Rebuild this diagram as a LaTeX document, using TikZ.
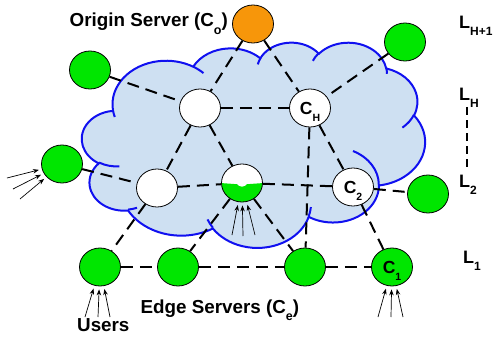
\documentclass[tikz,border=0pt]{standalone}
\usepackage{fontspec}
\setmainfont{Liberation Sans}
\usetikzlibrary{shapes.geometric, arrows.meta}

\definecolor{srvgreen}{RGB}{0,230,0}
\definecolor{srvorange}{RGB}{247,150,10}
\definecolor{cloudfill}{RGB}{206,224,242}
\definecolor{cloudedge}{RGB}{16,16,240}

% lowered subscript
\newcommand{\lsub}[2][12.5]{\raisebox{-0.4em}{\fontsize{#1}{#1}\selectfont #2}}
% cloud lobes: visual angles -> arc angles
\newcommand{\arcangles}{%
  \pgfmathsetmacro\ta{atan2(\rx*sin(\st),\ry*cos(\st))}%
  \pgfmathsetmacro\tb{atan2(\rx*sin(\st+\sw),\ry*cos(\st+\sw))}%
  \pgfmathsetmacro\td{\tb-\ta-360*round((\tb-\ta-\sw)/360)}%
}

\begin{document}
\begin{tikzpicture}[x=1pt, y=-1pt,
    srv/.style={ellipse, draw=black, line width=0.8pt, minimum width=41pt, minimum height=38pt,
      inner sep=0pt, font=\bfseries\fontsize{17.5}{17.5}\selectfont},
    link/.style={line width=2pt, dash pattern=on 12pt off 7pt},
    users/.style={-{Stealth[length=6pt, width=4.5pt]}, line width=0.7pt, shorten >=3pt},
    lbl/.style={inner sep=0pt, font=\bfseries\fontsize{18.8}{19}\selectfont},
    lvl/.style={inner sep=0pt, font=\bfseries\fontsize{18}{18}\selectfont},
  ]
    \useasboundingbox (0,0) rectangle (493,337);

    % Cloud
    \begin{scope}[shift={(82,42)}, x=0.794pt, y=-0.475pt]
        \draw[cloudedge, line width=2pt, fill=cloudfill] (39.00,143.70)
          \foreach \rx/\ry/\st/\sw in {67.53/91.90/-190.4875/123.7805, 53.33/72.67/-144.1024/89.9452,
            43.65/59.45/-145.8079/99.7230, 48.57/65.95/-130.9861/117.2417,
            53.33/72.73/-78.7089/109.0269, 67.75/92.20/-46.2673/130.2690,
            57.85/78.67/0.6250/114.0333, 67.52/92.15/22.4516/115.1726,
            77.20/105.43/66.2426/75.7110, 43.60/59.18/-274.9421/146.7356,
            43.45/59.45/-246.8285/152.5189}
          {\pgfextra{\arcangles} arc[start angle=\ta, delta angle=\td, x radius=\rx, y radius=\ry]}
          -- cycle;
        \foreach \px/\py/\rx/\ry/\st/\sw in {46.93/261.77/43.45/59.45/86.7420/26.4295,
            69.28/348.99/43.60/59.18/73.6105/11.4475, 164.78/390.90/67.52/92.15/137.6242/14.0811,
            288.27/347.51/67.52/92.15/6.4533/15.9984, 341.29/229.54/57.85/78.67/-70.2924/70.9174,
            417.98/153.54/53.33/72.73/30.3180/27.7515, 383.24/54.26/48.57/65.95/-13.7443/14.8589,
            290.78/39.52/48.57/65.95/-149.1815/18.1954, 221.41/47.20/43.65/59.45/-163.4943/17.6864,
            140.00/51.92/67.53/91.90/-66.7070/12.3194, 41.27/157.89/67.53/91.90/157.6544/11.8582}
          \draw[cloudedge, line width=2pt] (\px,\py) \pgfextra{\arcangles}
            arc[start angle=\ta, delta angle=\td, x radius=\rx, y radius=\ry];
    \end{scope}

    % Servers
    \node[srv, fill=srvorange] (origin) at (253,24) {};
    \node[srv, fill=srvgreen] (gtl) at (90,70) {};
    \node[srv, fill=srvgreen] (gtr) at (405,42) {};
    \node[srv, fill=white] (na) at (200,108) {};
    \node[srv, fill=white] (ch) at (310,108) {C\smash{\lsub[10.5]{H}}};
    \node[srv, fill=srvgreen] (gl) at (62,164) {};
    \node[srv, fill=white] (nb) at (157,188) {};
    \node[srv, draw=none, fill=white] (mid) at (242,183) {};
    \node[srv, fill=white] (c2) at (353,187) {C\smash{\lsub[10.5]{2}}};
    \node[srv, fill=srvgreen] (gr) at (428,194) {};
    \node[srv, fill=srvgreen] (e1) at (100,267) {};
    \node[srv, fill=srvgreen] (e2) at (178,267) {};
    \node[srv, fill=srvgreen] (e3) at (305,267) {};
    \node[srv, fill=srvgreen] (c1) at (392,267) {C\smash{\lsub[10.5]{1}}};

    % Half filled server
    \begin{scope}[shift={(mid.center)}]
        \begin{scope}
            \clip (0,0) ellipse [x radius=20.5, y radius=19];
            \fill[srvgreen] (-22,0) -- (-5,1.2) .. controls (-3,4.5) and (3,4.5) .. (5,1.2)
              -- (22,0) -- (22,22) -- (-22,22) -- cycle;
        \end{scope}
        \draw[line width=0.8pt] (0,0) ellipse [x radius=20.5, y radius=19];
    \end{scope}

    % Links
    \draw[link] (origin) -- (na);
    \draw[link] (origin) -- (ch);
    \draw[link] (gtl) -- (na);
    \draw[link] (gtr) -- (ch);
    \draw[link] (na) -- (ch);
    \draw[link] (na) -- (nb);
    \draw[link] (na) -- (mid);
    \draw[link] (ch) -- (c2);
    \draw[link] (ch) -- (e3);
    \draw[link] (gl) -- (nb);
    \draw[link] (nb) -- (mid);
    \draw[link] (mid) -- (c2);
    \draw[link] (c2) -- (gr);
    \draw[link] (nb) -- (e1);
    \draw[link] (mid) -- (e2);
    \draw[link] (mid) -- (e3);
    \draw[link] (c2) -- (c1);
    \draw[link] (e1) -- (e2);
    \draw[link] (e2) -- (e3);
    \draw[link] (e3) -- (c1);

    % Users
    \coordinate (ul1) at (7,178); \coordinate (ul2) at (13,189); \coordinate (ul3) at (20,199);
    \coordinate (um1) at (232,235); \coordinate (um2) at (243,236); \coordinate (um3) at (255,235);
    \coordinate (ue1) at (85,317); \coordinate (ue2) at (98,317); \coordinate (ue3) at (110,317);
    \coordinate (uc1) at (378,317); \coordinate (uc2) at (391,317); \coordinate (uc3) at (403,317);
    \draw[users] (ul1) -- (gl);
    \draw[users] (ul2) -- (gl);
    \draw[users] (ul3) -- (gl);
    \draw[users] (um1) -- (mid);
    \draw[users] (um2) -- (mid);
    \draw[users] (um3) -- (mid);
    \draw[users] (ue1) -- (e1);
    \draw[users] (ue2) -- (e1);
    \draw[users] (ue3) -- (e1);
    \draw[users] (uc1) -- (c1);
    \draw[users] (uc2) -- (c1);
    \draw[users] (uc3) -- (c1);

    % Labels
    \node[lbl, anchor=base east] (originlbl) at (228,27) {Origin Server (C\lsub{o})};
    \node[lbl, anchor=base west] (edgelbl) at (140.5,313) {Edge Servers (C\lsub{e})};
    \node[lbl, anchor=base west] (userslbl) at (77,331.5) {Users};

    % Levels
    \node[lvl, anchor=base west] (lhone) at (459,28.5) {L\lsub[12]{H+1}};
    \node[lvl, anchor=base west] (lh) at (459,100) {L\lsub[12]{H}};
    \node[lvl, anchor=base west] (ltwo) at (459,187) {L\lsub[12]{2}};
    \node[lvl, anchor=base west] (lone) at (463,263) {L\lsub[12]{1}};
    \coordinate (lvtop) at (467,107);
    \coordinate (lvbot) at (467,167);
    \draw[line width=2pt, dash pattern=on 8pt off 5pt] (lvtop) -- (lvbot);
\end{tikzpicture}
\end{document}
